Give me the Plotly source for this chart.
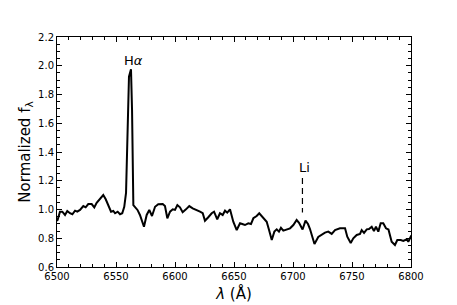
import plotly.graph_objects as go

wavelength = [6500.0, 6500.6, 6502.5, 6504.5, 6506.8, 6508.7, 6511.0, 6513.0, 6515.3, 6517.2, 6519.5,
              6522.3, 6524.3, 6526.5, 6529.4, 6531.6, 6533.6, 6536.4, 6539.2, 6541.3, 6543.5,
              6545.8, 6547.7, 6549.2, 6551.4, 6553.4, 6555.3, 6557.0, 6558.5, 6559.7, 6561.0,
              6562.7, 6563.6, 6564.7, 6566.1, 6568.2, 6570.3, 6572.0, 6573.7, 6576.0, 6578.2,
              6580.5, 6583.1, 6585.8, 6589.6, 6591.5, 6593.5, 6595.8, 6598.1, 6600.0, 6602.0,
              6604.2, 6606.5, 6609.3, 6612.1, 6615.0, 6618.4, 6621.2, 6623.5, 6625.4, 6628.2,
              6631.1, 6633.1, 6635.8, 6638.1, 6640.4, 6642.4, 6644.3, 6646.6, 6649.4, 6652.3,
              6655.1, 6657.0, 6659.3, 6662.1, 6664.4, 6666.4, 6669.2, 6671.4, 6673.5, 6675.7,
              6677.7, 6679.7, 6682.0, 6684.2, 6686.2, 6688.1, 6689.8, 6691.8, 6694.7, 6697.5,
              6700.3, 6703.1, 6705.1, 6708.1, 6710.6, 6712.7, 6714.4, 6716.4, 6718.2, 6721.4,
              6724.3, 6727.1, 6729.9, 6732.8, 6735.6, 6739.8, 6744.1, 6746.0, 6748.9, 6751.1,
              6754.0, 6756.8, 6758.2, 6760.2, 6762.5, 6764.4, 6766.7, 6768.6, 6770.3, 6772.3,
              6774.3, 6776.5, 6778.8, 6780.9, 6783.6, 6786.4, 6788.4, 6791.3, 6793.5, 6796.4,
              6797.7, 6799.8, 6800.0]

flux = [0.920, 0.930, 0.985, 0.985, 0.962, 0.990, 0.974, 0.967, 0.992, 0.985, 0.997,
        1.024, 1.015, 1.038, 1.038, 1.015, 1.047, 1.071, 1.101, 1.071, 1.024,
        0.985, 0.990, 0.974, 0.985, 0.967, 0.974, 1.019, 1.115, 1.483, 1.924,
        1.975, 1.692, 1.031, 1.019, 0.997, 0.962, 0.927, 0.880, 0.962, 0.997,
        0.955, 1.019, 1.036, 1.038, 1.024, 0.939, 0.985, 1.001, 0.997, 1.031,
        1.015, 0.981, 1.001, 1.024, 1.008, 0.997, 0.985, 0.974, 0.922, 0.946,
        0.974, 0.985, 0.932, 0.974, 0.962, 0.992, 0.978, 1.001, 0.915, 0.857,
        0.904, 0.899, 0.892, 0.904, 0.899, 0.939, 0.955, 0.974, 0.955, 0.932,
        0.915, 0.857, 0.788, 0.846, 0.862, 0.846, 0.873, 0.853, 0.862, 0.869,
        0.892, 0.927, 0.908, 0.861, 0.923, 0.899, 0.864, 0.807, 0.760, 0.809,
        0.823, 0.839, 0.846, 0.830, 0.857, 0.869, 0.869, 0.811, 0.767, 0.800,
        0.823, 0.830, 0.857, 0.837, 0.862, 0.864, 0.880, 0.850, 0.880, 0.846,
        0.904, 0.904, 0.869, 0.861, 0.776, 0.753, 0.788, 0.788, 0.781, 0.793,
        0.776, 0.811, 0.809]

line_labels = ["H<i>α</i>", "Li"]
line_label_x = [6565.0, 6710.0]
line_label_y = [2.04, 1.29]
li_marker_x = [6708.0, 6708.0]
li_marker_y = [1.22, 0.98]

fig = go.Figure()
fig.add_trace(go.Scatter(x=wavelength, y=flux, mode="lines",
                         line=dict(color="black", width=2), showlegend=False))
fig.add_trace(go.Scatter(x=li_marker_x, y=li_marker_y, mode="lines",
                         line=dict(color="black", width=1.2, dash="6px,4px"), showlegend=False))
for t, xx, yy in zip(line_labels, line_label_x, line_label_y):
    fig.add_annotation(x=xx, y=yy, text=t, showarrow=False,
                       font=dict(size=13, color="black", family="DejaVu Sans"))

axis_common = dict(showline=True, linecolor="black", linewidth=1, mirror="allticks",
                   ticks="inside", ticklen=5, tickcolor="black", tickwidth=1,
                   showgrid=False, zeroline=False, automargin=False,
                   tickfont=dict(size=10, color="black", family="DejaVu Sans"))

fig.update_xaxes(range=[6500, 6800], dtick=50, tick0=6500,
                 minor=dict(dtick=10, ticks="inside", ticklen=3, tickcolor="black"),
                 title=dict(text="<i>λ</i> (Å)", font=dict(size=15, color="black", family="DejaVu Sans"),
                            standoff=7),
                 **axis_common)
fig.update_yaxes(range=[0.6, 2.2], dtick=0.2, tick0=0.6, tickformat=".1f",
                 minor=dict(dtick=0.05, ticks="inside", ticklen=3, tickcolor="black"),
                 title=dict(text="Normalized f<sub>λ</sub>", font=dict(size=15, color="black", family="DejaVu Sans"),
                            standoff=3),
                 **axis_common)

fig.update_layout(width=457, height=305, paper_bgcolor="white", plot_bgcolor="white",
                  margin=dict(l=57, r=46, t=37, b=38),
                  font=dict(family="DejaVu Sans", color="black"))

fig.write_html("out.html", config={"displayModeBar": False},
               post_script="document.body.style.margin='0';")
